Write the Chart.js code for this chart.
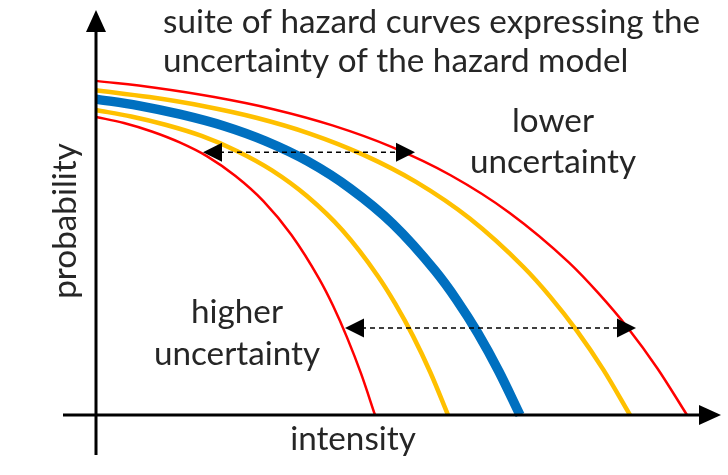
<!DOCTYPE html>
<html>
<head>
<meta charset="utf-8">
<script src="https://cdn.jsdelivr.net/npm/chart.js@4"></script>
<style>
  body { margin: 0; background: #fff; }
  #wrap { width: 728px; height: 475px; position: relative; }
</style>
</head>
<body>
<div id="wrap"><canvas id="chart"></canvas></div>
<script>
'use strict'

// hazard curves, intensity (x) vs probability (y)
const innerRedX = [0, 0.465, 0.93, 1.395, 1.86, 2.325, 2.79, 3.255, 3.72, 3.953, 4.185, 4.418, 4.65];
const innerRedY = [0.736, 0.721, 0.700, 0.673, 0.638, 0.590, 0.528, 0.445, 0.336, 0.269, 0.191, 0.102, 0];

const innerOrangeX = [0, 0.587, 1.173, 1.76, 2.347, 2.933, 3.52, 4.107, 4.693, 4.987, 5.28, 5.573, 5.867];
const innerOrangeY = [0.753, 0.737, 0.716, 0.689, 0.652, 0.604, 0.540, 0.456, 0.344, 0.275, 0.196, 0.105, 0];

const blueX = [0, 0.707, 1.413, 2.12, 2.827, 3.533, 4.24, 4.947, 5.653, 6.007, 6.36, 6.713, 7.067];
const blueY = [0.780, 0.764, 0.742, 0.714, 0.676, 0.626, 0.559, 0.472, 0.356, 0.285, 0.203, 0.108, 0];

const outerOrangeX = [0, 0.89, 1.78, 2.67, 3.56, 4.45, 5.34, 6.23, 7.12, 7.565, 8.01, 8.455, 8.9];
const outerOrangeY = [0.802, 0.785, 0.763, 0.734, 0.695, 0.643, 0.575, 0.485, 0.366, 0.293, 0.209, 0.112, 0];

const outerRedX = [0, 0.985, 1.97, 2.955, 3.94, 4.925, 5.91, 6.895, 7.88, 8.373, 8.865, 9.358, 9.85];
const outerRedY = [0.825, 0.808, 0.785, 0.755, 0.715, 0.662, 0.592, 0.499, 0.377, 0.301, 0.215, 0.115, 0];

// dashed double arrows
const arrowY = [0.649, 0.215];
const arrowFrom = [1.783, 4.15];
const arrowTo = [5.317, 9.0];

const titleLines = ['suite of hazard curves expressing the', 'uncertainty of the hazard model'];
const xLabel = 'intensity';
const yLabel = 'probability';

function pts(xs, ys) {
    return xs.map((x, i) => ({ x: x, y: ys[i] }));
}

function curve(xs, ys, color, width) {
    return {
        data: pts(xs, ys),
        borderColor: color,
        borderWidth: width,
        pointRadius: 0,
        cubicInterpolationMode: 'monotone',
        fill: false,
        clip: false
    };
}

function tri(ctx, tipX, tipY, dx, dy, len, half) {
    // dx,dy = unit direction the arrow points to
    const bx = tipX - dx * len, by = tipY - dy * len;
    ctx.beginPath();
    ctx.moveTo(tipX, tipY);
    ctx.lineTo(bx - dy * half, by + dx * half);
    ctx.lineTo(bx + dy * half, by - dx * half);
    ctx.closePath();
    ctx.fill();
}

const sketch = {
    id: 'sketch',
    afterDatasetsDraw(chart) {
        const ctx = chart.ctx;
        const xs = chart.scales.x, ys = chart.scales.y;
        ctx.save();

        // axes
        const ox = xs.getPixelForValue(0), oy = ys.getPixelForValue(0);
        ctx.strokeStyle = '#000';
        ctx.fillStyle = '#000';
        ctx.lineWidth = 3;
        ctx.beginPath();
        ctx.moveTo(ox, 455);
        ctx.lineTo(ox, 28);
        ctx.moveTo(63, oy);
        ctx.lineTo(704, oy);
        ctx.stroke();
        tri(ctx, ox, 10, 0, -1, 22, 10);
        tri(ctx, 721, oy, 1, 0, 22, 10);

        // dashed arrows
        ctx.lineWidth = 1.5;
        ctx.setLineDash([5, 4]);
        arrowY.forEach((v, i) => {
            const py = ys.getPixelForValue(v);
            const x1 = xs.getPixelForValue(arrowFrom[i]);
            const x2 = xs.getPixelForValue(arrowTo[i]);
            ctx.beginPath();
            ctx.moveTo(x1 + 16, py);
            ctx.lineTo(x2 - 16, py);
            ctx.stroke();
        });
        ctx.setLineDash([]);
        arrowY.forEach((v, i) => {
            const py = ys.getPixelForValue(v);
            tri(ctx, xs.getPixelForValue(arrowFrom[i]), py, -1, 0, 19, 9.5);
            tri(ctx, xs.getPixelForValue(arrowTo[i]), py, 1, 0, 19, 9.5);
        });

        // text
        ctx.font = '100px Lato';
        const size = 100 * 537 / ctx.measureText(titleLines[0]).width;
        ctx.font = size.toFixed(2) + 'px Lato';
        ctx.fillStyle = '#262626';
        ctx.textBaseline = 'alphabetic';
        ctx.textAlign = 'left';
        ctx.fillText(titleLines[0], 163, 33);
        ctx.fillText(titleLines[1], 163, 72);
        ctx.textAlign = 'center';
        ctx.fillText('lower', 553, 132);
        ctx.fillText('uncertainty', 553, 173);
        ctx.fillText('higher', 237, 323);
        ctx.fillText('uncertainty', 237, 365);
        ctx.fillText(xLabel, 353, 450);
        ctx.translate(76, 221);
        ctx.rotate(-Math.PI / 2);
        ctx.fillText(yLabel, 0, 0);
        ctx.restore();
    }
};

new Chart(document.getElementById('chart'), {
    type: 'line',
    data: {
        datasets: [
            curve(innerRedX, innerRedY, '#FF0000', 2.5),
            curve(innerOrangeX, innerOrangeY, '#FFC000', 4.5),
            curve(outerOrangeX, outerOrangeY, '#FFC000', 4.5),
            curve(outerRedX, outerRedY, '#FF0000', 2.5),
            curve(blueX, blueY, '#0070C0', 9.5)
        ]
    },
    options: {
        responsive: true,
        maintainAspectRatio: false,
        animation: false,
        layout: { padding: { left: 96, right: 8, top: 10, bottom: 60 } },
        plugins: {
            legend: { display: false },
            tooltip: { enabled: false }
        },
        scales: {
            x: { type: 'linear', min: 0, max: 10.4, display: false },
            y: { type: 'linear', min: 0, max: 1, display: false }
        }
    },
    plugins: [sketch]
});
</script>
</body>
</html>
